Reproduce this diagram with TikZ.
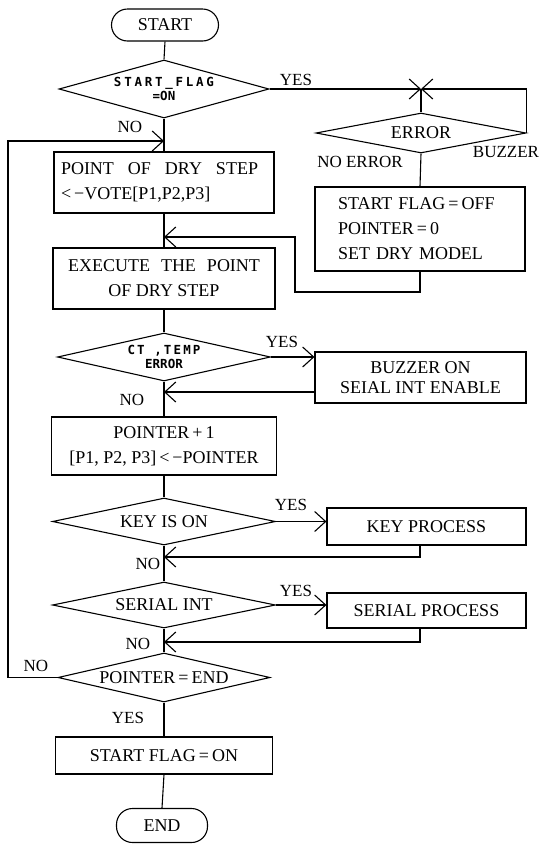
\documentclass[tikz,border=0pt]{standalone}
\usepackage{fontspec}
\setmainfont{Liberation Serif}
\newfontfamily\plotwide{DejaVu Sans Mono}[LetterSpace=22]
\newfontfamily\plotmid{DejaVu Sans Mono}[LetterSpace=17]
\newfontfamily\plotnarrow{DejaVu Sans Mono}[LetterSpace=0]
\usetikzlibrary{shapes.geometric,arrows.meta}
\tikzset{
  line/.style={line width=1.1pt},
  arr/.style={line width=1.1pt,-{Straight Barb[length=11pt,width=20pt]}},
  box/.style={draw,line width=1.1pt,inner sep=0pt,font=\fontsize{18}{25}\selectfont},
  dec/.style={diamond,draw,line width=1.1pt,inner sep=0pt,font=\fontsize{18}{20}\selectfont},
  term/.style={draw,line width=1.1pt,rounded corners=16pt,inner sep=0pt,font=\fontsize{18}{20}\selectfont},
  lbl/.style={inner sep=0pt,font=\fontsize{17}{19}\selectfont},
  tiny/.style={font=\fontsize{12.5}{14}\selectfont\bfseries}
}
\begin{document}
\begin{tikzpicture}[x=1pt,y=-1pt]
\useasboundingbox[fill=white] (0,0) rectangle (540,844);
% main column
\node[term,minimum width=107pt,minimum height=32pt] (nstart) at (165,25) {START};
\node[dec,tiny,align=center,minimum width=210pt,minimum height=58pt,aspect=3.6] (d1) at (164,89)
  {{\plotwide START\_FLAG}\\{\plotnarrow =ON}};
\node[box,align=left,text width=206pt,minimum width=220pt,minimum height=61pt] (b1) at (164,182.5)
  {POINT\hspace{14pt}OF\hspace{14pt}DRY\hspace{14pt}STEP\\<\,−VOTE[P1,P2,P3]};
\node[box,align=center,minimum width=222pt,minimum height=61pt] (b2) at (164,278.5)
  {EXECUTE\hspace{11pt}THE\hspace{11pt}POINT\\OF DRY STEP};
\node[dec,tiny,align=center,minimum width=213pt,minimum height=48pt,aspect=4.4] (d2) at (164,357)
  {{\plotmid CT ,TEMP}\\{\plotnarrow ERROR}};
\node[box,align=center,minimum width=225pt,minimum height=58pt] (b3) at (164,446)
  {POINTER\,+\,1\\{[}P1, P2, P3{]}\,<\,−POINTER};
\node[dec,minimum width=223pt,minimum height=47pt,aspect=4.7] (d3) at (164,521.5) {KEY IS ON};
\node[dec,minimum width=223pt,minimum height=46pt,aspect=4.8] (d4) at (164,605) {SERIAL INT};
\node[dec,minimum width=212pt,minimum height=49pt,aspect=4.3] (d5) at (164,677.5) {POINTER\,=\,END};
\node[box,minimum width=217pt,minimum height=37pt] (b4) at (164,755.5) {START FLAG\,=\,ON};
\node[term,minimum width=91pt,minimum height=34pt] (nend) at (162,825.5) {END};
% right column
\node[dec,minimum width=210pt,minimum height=40pt,aspect=5.2] (err) at (421,133) {ERROR};
\node[box,align=left,text width=164pt,minimum width=210pt,minimum height=84pt] (sf) at (420,229)
  {START FLAG\,=\,OFF\\POINTER\,=\,0\\SET DRY MODEL};
\node[box,align=center,font=\fontsize{18}{20}\selectfont,minimum width=211pt,minimum height=51pt] (bz) at (420.5,377.5)
  {BUZZER ON\\SEIAL INT ENABLE};
\node[box,minimum width=199pt,minimum height=37pt] (kp) at (426.5,526.5) {KEY PROCESS};
\node[box,minimum width=199pt,minimum height=35pt] (sp) at (426.5,610.5) {SERIAL PROCESS};
% labels
\node[lbl] (l1) at (296,80) {YES};
\node[lbl] (l2) at (360,162) {NO ERROR};
\node[lbl] (l3) at (506,152) {BUZZER};
\node[lbl] (l4) at (130,127) {NO};
\node[lbl] (l5) at (282,342) {YES};
\node[lbl] (l6) at (132,400) {NO};
\node[lbl] (l7) at (291,505) {YES};
\node[lbl] (l8) at (148,564) {NO};
\node[lbl] (l9) at (296,591) {YES};
\node[lbl] (l10) at (138,644) {NO};
\node[lbl] (l11) at (36,666) {NO};
\node[lbl] (l12) at (128,718) {YES};
% coordinates
\coordinate (lx) at (8,0);
\coordinate (j1) at (164,141);
\coordinate (j2) at (164,237);
\coordinate (r2) at (295,292);
\coordinate (j3) at (164,392);
\coordinate (j4) at (164,557);
\coordinate (j5) at (164,642);
\coordinate (k4) at (420,0);
\coordinate (jx) at (d1.east -| err.north);
% connectors
\draw[line] (nstart.south) -- (d1.north);
\draw[line] (d1.south) -- (b1.north);
\draw[arr] (d5.west) -- (d5.west -| lx) |- (j1);
\draw[arr] (d1.east) -- (jx);
\draw[arr] (err.east) |- (jx);
\draw[line] (jx) -- (err.north);
\draw[line] (err.south) -- (sf.north);
\draw[arr] (sf.south) |- (r2) |- (j2);
\draw[line] (b1.south) -- (b2.north);
\draw[line] (b2.south) -- (d2.north);
\draw[arr] (d2.east) -- (d2.east -| bz.west);
\draw[arr] (bz.west |- j3) -- (j3);
\draw[line] (d2.south) -- (b3.north);
\draw[line] (b3.south) -- (d3.north);
\draw[arr] (d3.east) -- (d3.east -| kp.west);
\draw[arr] (kp.south -| k4) |- (j4);
\draw[line] (d3.south) -- (d4.north);
\draw[arr] (d4.east) -- (d4.east -| sp.west);
\draw[arr] (sp.south -| k4) |- (j5);
\draw[line] (d4.south) -- (d5.north);
\draw[line] (d5.south) -- (b4.north);
\draw[line] (b4.south) -- (nend.north);
\end{tikzpicture}
\end{document}
